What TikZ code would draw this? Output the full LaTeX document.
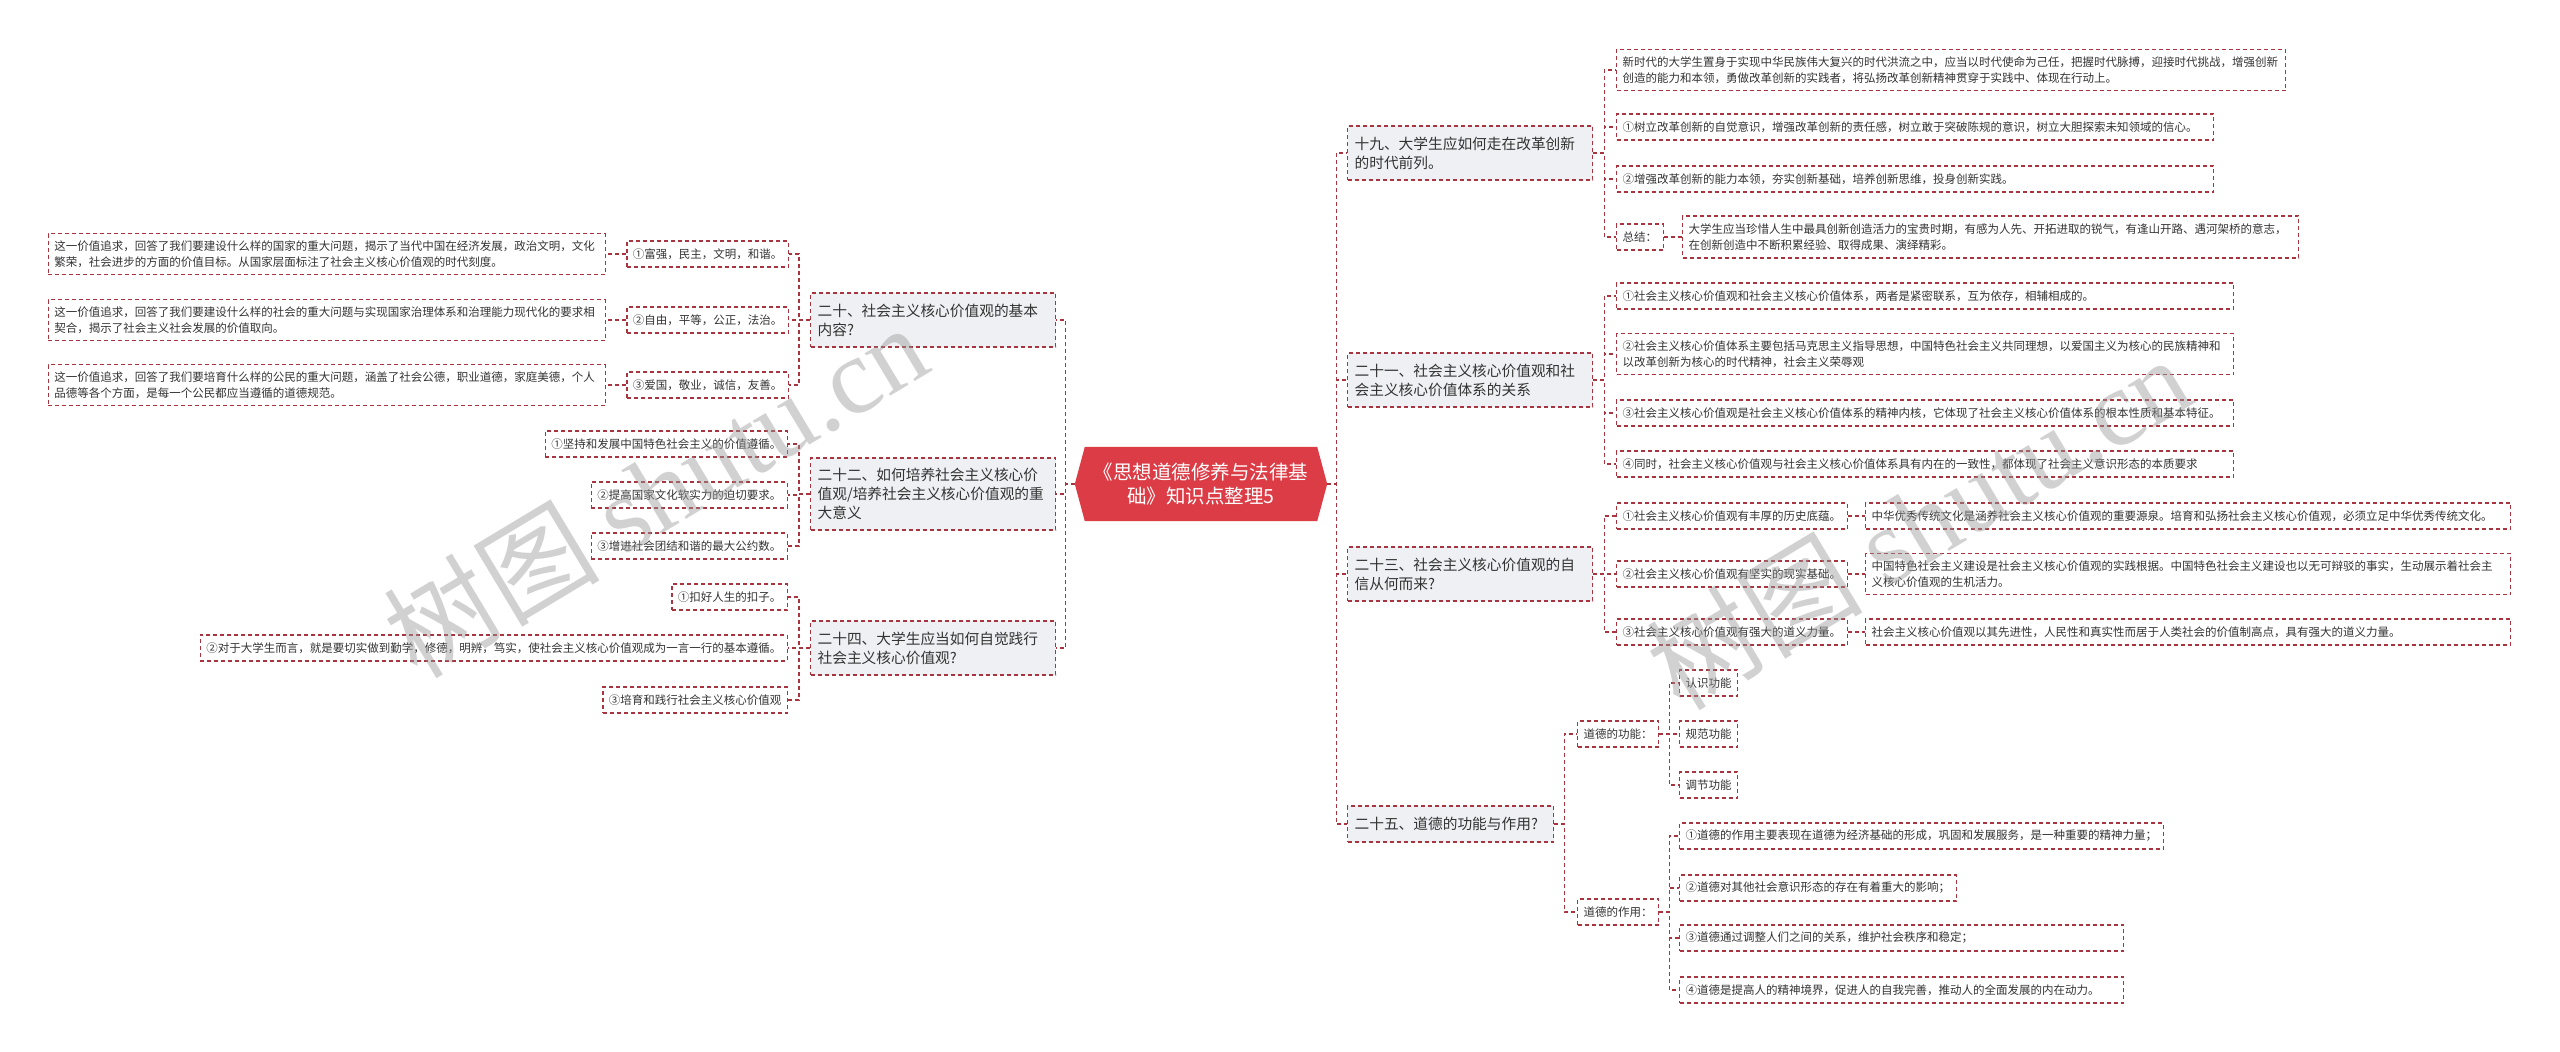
\documentclass[tikz,border=0pt]{standalone}
\usepackage{fontspec}
\setmainfont{Noto Sans CJK SC}
\newfontfamily\wmlatin{Liberation Serif}
\usetikzlibrary{backgrounds}
\definecolor{linecol}{HTML}{A83440}
\definecolor{boxfill}{HTML}{EEF0F4}
\definecolor{redfill}{HTML}{DC3C46}
\definecolor{txt}{HTML}{333333}
\definecolor{wmcol}{HTML}{9A9A9A}
\begin{document}
\begin{tikzpicture}[x=1pt,y=-1pt,
  conn/.style={draw=linecol, line width=1.2pt, dash pattern=on 4pt off 3pt},
  topic/.style={draw=linecol, line width=1.2pt, dash pattern=on 4pt off 3pt, fill=boxfill, text=txt, font=\fontsize{14.7pt}{19pt}\selectfont, align=left, text width=231pt, inner xsep=7pt, inner ysep=6pt, anchor=west},
  leaf/.style={draw=linecol, line width=1.2pt, dash pattern=on 4pt off 3pt, fill=white, text=txt, font=\fontsize{11.5pt}{16.5pt}\selectfont, align=left, inner xsep=6pt, inner ysep=5pt, minimum height=26pt},
  rootnode/.style={text=white, font=\fontsize{19.5pt}{24pt}\selectfont, align=center, minimum width=252pt, minimum height=74pt, inner sep=0pt},
  wmark/.style={text=wmcol, text opacity=0.45, rotate=31, font=\fontsize{108pt}{112pt}\selectfont}
]
\useasboundingbox (0,0) rectangle (2560,1052);

% root
\node[rootnode] (C) at (1201,484) {《思想道德修养与法律基\\础》知识点整理5};
\begin{pgfonlayer}{background}
\fill[white] (0,0) rectangle (2560,1052);
\fill[redfill] (C.west) -- ([xshift=10pt]C.north west) -- ([xshift=-10pt]C.north east) -- (C.east) -- ([xshift=-10pt]C.south east) -- ([xshift=10pt]C.south west) -- cycle;
\end{pgfonlayer}

% left topics
\node[topic, minimum height=54pt] (L20) at (810,320) {二十、社会主义核心价值观的基本\\内容?};
\node[topic, minimum height=72pt] (L22) at (810,494) {二十二、如何培养社会主义核心价\\值观/培养社会主义核心价值观的重\\大意义};
\node[topic, minimum height=54pt] (L24) at (810,648) {二十四、大学生应当如何自觉践行\\社会主义核心价值观?};

% left leaves of 20
\node[leaf, anchor=east] (A1) at (789,254) {①富强，民主，文明，和谐。};
\node[leaf, anchor=east] (A2) at (789,320) {②自由，平等，公正，法治。};
\node[leaf, anchor=east] (A3) at (789,385) {③爱国，敬业，诚信，友善。};
\node[leaf, anchor=east, text width=545pt, minimum height=41pt] (D1) at (606,254) {这一价值追求，回答了我们要建设什么样的国家的重大问题，揭示了当代中国在经济发展，政治文明，文化\\繁荣，社会进步的方面的价值目标。从国家层面标注了社会主义核心价值观的时代刻度。};
\node[leaf, anchor=east, text width=545pt, minimum height=41pt] (D2) at (606,320) {这一价值追求，回答了我们要建设什么样的社会的重大问题与实现国家治理体系和治理能力现代化的要求相\\契合，揭示了社会主义社会发展的价值取向。};
\node[leaf, anchor=east, text width=545pt, minimum height=41pt] (D3) at (606,385) {这一价值追求，回答了我们要培育什么样的公民的重大问题，涵盖了社会公德，职业道德，家庭美德，个人\\品德等各个方面，是每一个公民都应当遵循的道德规范。};

% left leaves of 22
\node[leaf, anchor=east] (B1) at (788,444) {①坚持和发展中国特色社会主义的价值遵循。};
\node[leaf, anchor=east] (B2) at (788,495) {②提高国家文化软实力的迫切要求。};
\node[leaf, anchor=east] (B3) at (788,546) {③增进社会团结和谐的最大公约数。};

% left leaves of 24
\node[leaf, anchor=east] (E1) at (788,597) {①扣好人生的扣子。};
\node[leaf, anchor=east] (E2) at (788,648) {②对于大学生而言，就是要切实做到勤学，修德，明辨，笃实，使社会主义核心价值观成为一言一行的基本遵循。};
\node[leaf, anchor=east] (E3) at (788,700) {③培育和践行社会主义核心价值观};

% right topics
\node[topic, minimum height=54pt] (R19) at (1347,153) {十九、大学生应如何走在改革创新\\的时代前列。};
\node[topic, minimum height=54pt] (R21) at (1347,380) {二十一、社会主义核心价值观和社\\会主义核心价值体系的关系};
\node[topic, minimum height=54pt] (R23) at (1347,574) {二十三、社会主义核心价值观的自\\信从何而来?};
\node[topic, minimum height=36pt, text width=192pt] (R25) at (1347,824) {二十五、道德的功能与作用?};

% 19
\node[leaf, anchor=west, text width=657pt, minimum height=41pt] (F1) at (1616,70) {新时代的大学生置身于实现中华民族伟大复兴的时代洪流之中，应当以时代使命为己任，把握时代脉搏，迎接时代挑战，增强创新\\创造的能力和本领，勇做改革创新的实践者，将弘扬改革创新精神贯穿于实践中、体现在行动上。};
\node[leaf, anchor=west, text width=585pt] (F2) at (1616,127) {①树立改革创新的自觉意识，增强改革创新的责任感，树立敢于突破陈规的意识，树立大胆探索未知领域的信心。};
\node[leaf, anchor=west, text width=585pt] (F3) at (1616,179) {②增强改革创新的能力本领，夯实创新基础，培养创新思维，投身创新实践。};
\node[leaf, anchor=west] (F4) at (1616,237) {总结：};
\node[leaf, anchor=west, text width=604pt, minimum height=42pt] (F5) at (1682,237) {大学生应当珍惜人生中最具创新创造活力的宝贵时期，有感为人先、开拓进取的锐气，有逢山开路、遇河架桥的意志，\\在创新创造中不断积累经验、取得成果、演绎精彩。};

% 21
\node[leaf, anchor=west, text width=605pt] (G1) at (1616,296) {①社会主义核心价值观和社会主义核心价值体系，两者是紧密联系，互为依存，相辅相成的。};
\node[leaf, anchor=west, text width=605pt, minimum height=41pt] (G2) at (1616,354) {②社会主义核心价值体系主要包括马克思主义指导思想，中国特色社会主义共同理想，以爱国主义为核心的民族精神和\\以改革创新为核心的时代精神，社会主义荣辱观};
\node[leaf, anchor=west, text width=605pt] (G3) at (1616,413) {③社会主义核心价值观是社会主义核心价值体系的精神内核，它体现了社会主义核心价值体系的根本性质和基本特征。};
\node[leaf, anchor=west, text width=605pt] (G4) at (1616,464) {④同时，社会主义核心价值观与社会主义核心价值体系具有内在的一致性，都体现了社会主义意识形态的本质要求};

% 23
\node[leaf, anchor=west] (H1) at (1616,516) {①社会主义核心价值观有丰厚的历史底蕴。};
\node[leaf, anchor=west] (H2) at (1616,574) {②社会主义核心价值观有坚实的现实基础。};
\node[leaf, anchor=west] (H3) at (1616,632) {③社会主义核心价值观有强大的道义力量。};
\node[leaf, anchor=west, text width=633pt] (I1) at (1865,516) {中华优秀传统文化是涵养社会主义核心价值观的重要源泉。培育和弘扬社会主义核心价值观，必须立足中华优秀传统文化。};
\node[leaf, anchor=west, text width=633pt, minimum height=41pt] (I2) at (1865,574) {中国特色社会主义建设是社会主义核心价值观的实践根据。中国特色社会主义建设也以无可辩驳的事实，生动展示着社会主\\义核心价值观的生机活力。};
\node[leaf, anchor=west, text width=633pt] (I3) at (1865,632) {社会主义核心价值观以其先进性，人民性和真实性而居于人类社会的价值制高点，具有强大的道义力量。};

% 25
\node[leaf, anchor=west] (K1) at (1577,734) {道德的功能：};
\node[leaf, anchor=west] (K2) at (1577,912) {道德的作用：};
\node[leaf, anchor=west] (M1) at (1679,683) {认识功能};
\node[leaf, anchor=west] (M2) at (1679,734) {规范功能};
\node[leaf, anchor=west] (M3) at (1679,785) {调节功能};
\node[leaf, anchor=west] (N1) at (1679,836) {①道德的作用主要表现在道德为经济基础的形成，巩固和发展服务，是一种重要的精神力量；};
\node[leaf, anchor=west] (N2) at (1679,888) {②道德对其他社会意识形态的存在有着重大的影响；};
\node[leaf, anchor=west, text width=432pt] (N3) at (1679,938) {③道德通过调整人们之间的关系，维护社会秩序和稳定；};
\node[leaf, anchor=west, text width=432pt] (N4) at (1679,990) {④道德是提高人的精神境界，促进人的自我完善，推动人的全面发展的内在动力。};

% connectors: root
\foreach \t in {L20,L22,L24} \draw[conn] (C.west) -- ++(-9,0) |- (\t.east);
\foreach \t in {R19,R21,R23,R25} \draw[conn] (C.east) -- ++(9,0) |- (\t.west);
% left
\foreach \t in {A1,A2,A3} \draw[conn] (L20.west) -- ++(-11,0) |- (\t.east);
\foreach \t in {B1,B2,B3} \draw[conn] (L22.west) -- ++(-11,0) |- (\t.east);
\foreach \t in {E1,E2,E3} \draw[conn] (L24.west) -- ++(-11,0) |- (\t.east);
\draw[conn] (A1.west) -- (D1.east);
\draw[conn] (A2.west) -- (D2.east);
\draw[conn] (A3.west) -- (D3.east);
% right
\foreach \t in {F1,F2,F3,F4} \draw[conn] (R19.east) -- ++(11,0) |- (\t.west);
\draw[conn] (F4.east) -- (F5.west);
\foreach \t in {G1,G2,G3,G4} \draw[conn] (R21.east) -- ++(11,0) |- (\t.west);
\foreach \t in {H1,H2,H3} \draw[conn] (R23.east) -- ++(11,0) |- (\t.west);
\draw[conn] (H1.east) -- (I1.west);
\draw[conn] (H2.east) -- (I2.west);
\draw[conn] (H3.east) -- (I3.west);
\foreach \t in {K1,K2} \draw[conn] (R25.east) -- ++(10,0) |- (\t.west);
\foreach \t in {M1,M2,M3} \draw[conn] (K1.east) -- ++(10,0) |- (\t.west);
\foreach \t in {N1,N2,N3,N4} \draw[conn] (K2.east) -- ++(10,0) |- (\t.west);

% watermarks
\node[wmark] (W1) at (655,490) {树图 {\wmlatin shutu.cn}};
\node[wmark] (W2) at (1918,522) {树图 {\wmlatin shutu.cn}};
\end{tikzpicture}
\end{document}
